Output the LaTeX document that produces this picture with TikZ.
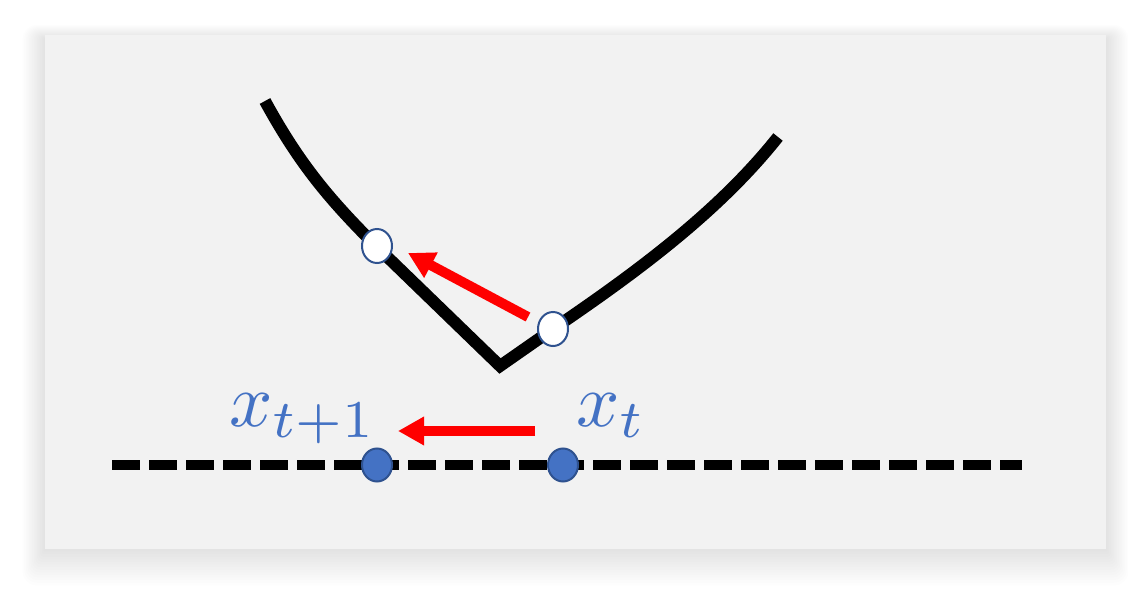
\documentclass[tikz,border=0pt]{standalone}
\usetikzlibrary{arrows.meta,shapes.geometric}
\definecolor{panel}{HTML}{F2F2F2}
\definecolor{dotblue}{HTML}{4472C4}
\definecolor{dotedge}{HTML}{2F528F}
\definecolor{labblue}{HTML}{4472C4}
\tikzset{
  curve/.style={line width=12pt, line join=miter},
  axis/.style={line width=10pt, dash pattern=on 28pt off 9pt},
  opendot/.style={ellipse, draw=dotedge, line width=2pt, fill=white, minimum width=30pt, minimum height=34pt, inner sep=0pt},
  fulldot/.style={ellipse, draw=dotedge, line width=2pt, fill=dotblue, minimum width=30pt, minimum height=33pt, inner sep=0pt},
  move/.style={red, line width=10pt, -{Triangle[length=26pt,width=27pt]}},
  lab/.style={text=labblue, inner sep=0pt},
}
\newcommand{\biglab}[1]{\scalebox{7.6}{$#1$}}
\begin{document}
\begin{tikzpicture}[x=1pt,y=-1pt]
\useasboundingbox (0,0) rectangle (1128,591);
\fill[white] (0,0) rectangle (1128,591);
% soft shadow
\foreach \i in {1,...,14}{
  \fill[black, opacity=0.006, rounded corners=\i pt] (45-1.6*\i,35-1.0*\i+4) rectangle (1106+1.6*\i,549+2.6*\i);
}
\fill[panel] (45,35) rectangle (1106,549);
% curve
\draw[curve] (265,101) .. controls (300,165) and (330,200) .. (376,246) -- (500,366) -- (553,329) .. controls (640,270) and (720,210) .. (778,137);
% axis
\draw[axis] (112,465) -- (1022,465);
% points
\node[opendot] (p1) at (377,246) {};
\node[opendot] (p2) at (553,329) {};
\node[fulldot] (q1) at (377,465) {};
\node[fulldot] (q2) at (563,465) {};
% arrows
\coordinate (a1s) at (528,317);
\coordinate (a1e) at (408,253);
\coordinate (a2s) at (535,431);
\coordinate (a2e) at (398,431);
\draw[move] (a1s) -- (a1e);
\draw[move] (a2s) -- (a2e);
% labels
\node[lab, anchor=base west] (l1) at (229,426) {\biglab{x_{t+1}}};
\node[lab, anchor=base west] (l2) at (576,426) {\biglab{x_t}};
\end{tikzpicture}
\end{document}
